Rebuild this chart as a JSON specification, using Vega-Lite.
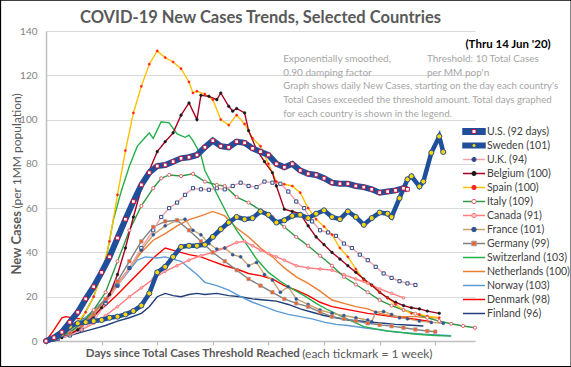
{
"$schema": "https://vega.github.io/schema/vega-lite/v6.json",
"width": 429, "height": 310,
"autosize": {"type": "none"},
"padding": {"left": 46, "top": 31, "right": 96, "bottom": 26},
"background": "white",
"config": {"view": {"stroke": null}, "font": "Lato"},
"resolve": {"scale": {"shape": "independent", "fill": "independent", "stroke": "independent", "size": "independent"}},
"datasets": {"s": [
{"c":"Finland","d":0,"v":0},{"c":"Finland","d":3,"v":1},{"c":"Finland","d":6,"v":2.5},{"c":"Finland","d":9,"v":4},{"c":"Finland","d":12,"v":5.5},{"c":"Finland","d":15,"v":7},{"c":"Finland","d":18,"v":9},{"c":"Finland","d":21,"v":10.5},{"c":"Finland","d":24,"v":12.5},{"c":"Finland","d":26,"v":15.5},{"c":"Finland","d":28,"v":20},{"c":"Finland","d":30,"v":21.5},{"c":"Finland","d":32,"v":20.5},{"c":"Finland","d":34,"v":20},{"c":"Finland","d":36,"v":21},{"c":"Finland","d":38,"v":21.5},{"c":"Finland","d":40,"v":21},{"c":"Finland","d":43,"v":21.5},{"c":"Finland","d":46,"v":20.5},{"c":"Finland","d":49,"v":20},{"c":"Finland","d":52,"v":19},{"c":"Finland","d":55,"v":18.5},{"c":"Finland","d":58,"v":18},{"c":"Finland","d":61,"v":16.5},{"c":"Finland","d":64,"v":14.5},{"c":"Finland","d":67,"v":13},{"c":"Finland","d":70,"v":11.5},{"c":"Finland","d":73,"v":10.5},{"c":"Finland","d":76,"v":9.5},{"c":"Finland","d":79,"v":9},{"c":"Finland","d":82,"v":8.5},{"c":"Finland","d":85,"v":8},{"c":"Finland","d":88,"v":7.5},{"c":"Finland","d":91,"v":7.2},{"c":"Finland","d":93,"v":7},{"c":"Finland","d":95,"v":6.8},
{"c":"Denmark","d":0,"v":0},{"c":"Denmark","d":2,"v":5},{"c":"Denmark","d":4,"v":10.5},{"c":"Denmark","d":5,"v":11},{"c":"Denmark","d":7,"v":10.3},{"c":"Denmark","d":9,"v":10},{"c":"Denmark","d":11,"v":10.5},{"c":"Denmark","d":13,"v":13},{"c":"Denmark","d":15,"v":16},{"c":"Denmark","d":18,"v":21},{"c":"Denmark","d":21,"v":26.5},{"c":"Denmark","d":24,"v":32},{"c":"Denmark","d":27,"v":37.5},{"c":"Denmark","d":30,"v":42},{"c":"Denmark","d":33,"v":40.5},{"c":"Denmark","d":36,"v":39},{"c":"Denmark","d":39,"v":38},{"c":"Denmark","d":42,"v":36},{"c":"Denmark","d":45,"v":34},{"c":"Denmark","d":48,"v":32.5},{"c":"Denmark","d":51,"v":30.5},{"c":"Denmark","d":54,"v":29.5},{"c":"Denmark","d":57,"v":28},{"c":"Denmark","d":60,"v":25},{"c":"Denmark","d":63,"v":23},{"c":"Denmark","d":66,"v":20.5},{"c":"Denmark","d":69,"v":17.5},{"c":"Denmark","d":72,"v":15.5},{"c":"Denmark","d":75,"v":14.5},{"c":"Denmark","d":78,"v":13.5},{"c":"Denmark","d":81,"v":12.5},{"c":"Denmark","d":84,"v":11.8},{"c":"Denmark","d":87,"v":11},{"c":"Denmark","d":90,"v":10.5},{"c":"Denmark","d":93,"v":9.8},{"c":"Denmark","d":97,"v":8.7},
{"c":"Norway","d":0,"v":0},{"c":"Norway","d":3,"v":2},{"c":"Norway","d":6,"v":5},{"c":"Norway","d":9,"v":9},{"c":"Norway","d":12,"v":14},{"c":"Norway","d":15,"v":19},{"c":"Norway","d":18,"v":25},{"c":"Norway","d":21,"v":32},{"c":"Norway","d":23,"v":36.5},{"c":"Norway","d":25,"v":38},{"c":"Norway","d":28,"v":37.5},{"c":"Norway","d":30,"v":38},{"c":"Norway","d":32,"v":37},{"c":"Norway","d":34,"v":36},{"c":"Norway","d":36,"v":33},{"c":"Norway","d":38,"v":30},{"c":"Norway","d":40,"v":26.5},{"c":"Norway","d":43,"v":25},{"c":"Norway","d":46,"v":23},{"c":"Norway","d":49,"v":20},{"c":"Norway","d":52,"v":17.5},{"c":"Norway","d":55,"v":15.5},{"c":"Norway","d":58,"v":13.5},{"c":"Norway","d":61,"v":12},{"c":"Norway","d":64,"v":11},{"c":"Norway","d":67,"v":10},{"c":"Norway","d":70,"v":8.5},{"c":"Norway","d":73,"v":7.5},{"c":"Norway","d":76,"v":7},{"c":"Norway","d":80,"v":6},{"c":"Norway","d":84,"v":5},{"c":"Norway","d":88,"v":4},{"c":"Norway","d":92,"v":3.5},{"c":"Norway","d":96,"v":3},{"c":"Norway","d":99,"v":2.7},{"c":"Norway","d":102,"v":2.4},
{"c":"Netherlands","d":0,"v":0},{"c":"Netherlands","d":3,"v":1.5},{"c":"Netherlands","d":6,"v":4},{"c":"Netherlands","d":9,"v":8},{"c":"Netherlands","d":12,"v":13},{"c":"Netherlands","d":15,"v":19},{"c":"Netherlands","d":18,"v":26},{"c":"Netherlands","d":21,"v":33},{"c":"Netherlands","d":24,"v":40},{"c":"Netherlands","d":27,"v":45.5},{"c":"Netherlands","d":30,"v":48.5},{"c":"Netherlands","d":33,"v":52},{"c":"Netherlands","d":36,"v":54.8},{"c":"Netherlands","d":39,"v":56.5},{"c":"Netherlands","d":42,"v":58.5},{"c":"Netherlands","d":45,"v":56.5},{"c":"Netherlands","d":48,"v":51},{"c":"Netherlands","d":51,"v":47},{"c":"Netherlands","d":54,"v":42},{"c":"Netherlands","d":57,"v":38},{"c":"Netherlands","d":60,"v":33},{"c":"Netherlands","d":63,"v":29},{"c":"Netherlands","d":66,"v":26},{"c":"Netherlands","d":69,"v":22.5},{"c":"Netherlands","d":72,"v":18.5},{"c":"Netherlands","d":75,"v":17},{"c":"Netherlands","d":78,"v":15.5},{"c":"Netherlands","d":81,"v":14.5},{"c":"Netherlands","d":84,"v":12.5},{"c":"Netherlands","d":87,"v":11.3},{"c":"Netherlands","d":90,"v":11},{"c":"Netherlands","d":93,"v":11},{"c":"Netherlands","d":96,"v":10.5},{"c":"Netherlands","d":99,"v":10.5},
{"c":"Switzerland","d":0,"v":0},{"c":"Switzerland","d":3,"v":2},{"c":"Switzerland","d":6,"v":5},{"c":"Switzerland","d":9,"v":10},{"c":"Switzerland","d":12,"v":20},{"c":"Switzerland","d":15,"v":36},{"c":"Switzerland","d":17,"v":55},{"c":"Switzerland","d":19,"v":68},{"c":"Switzerland","d":21,"v":79},{"c":"Switzerland","d":23,"v":88},{"c":"Switzerland","d":25,"v":92},{"c":"Switzerland","d":26,"v":94},{"c":"Switzerland","d":27,"v":91.5},{"c":"Switzerland","d":29,"v":99},{"c":"Switzerland","d":31,"v":98.5},{"c":"Switzerland","d":33,"v":93.5},{"c":"Switzerland","d":35,"v":92},{"c":"Switzerland","d":36,"v":93},{"c":"Switzerland","d":37,"v":90.5},{"c":"Switzerland","d":39,"v":84},{"c":"Switzerland","d":40,"v":77},{"c":"Switzerland","d":42,"v":70},{"c":"Switzerland","d":44,"v":63},{"c":"Switzerland","d":46,"v":56},{"c":"Switzerland","d":48,"v":50},{"c":"Switzerland","d":50,"v":45},{"c":"Switzerland","d":53,"v":37},{"c":"Switzerland","d":56,"v":31},{"c":"Switzerland","d":59,"v":27},{"c":"Switzerland","d":62,"v":23.5},{"c":"Switzerland","d":65,"v":20.5},{"c":"Switzerland","d":68,"v":17},{"c":"Switzerland","d":71,"v":14},{"c":"Switzerland","d":74,"v":11.5},{"c":"Switzerland","d":77,"v":9},{"c":"Switzerland","d":80,"v":6.5},{"c":"Switzerland","d":83,"v":5.5},{"c":"Switzerland","d":86,"v":4.5},{"c":"Switzerland","d":89,"v":4},{"c":"Switzerland","d":92,"v":3.3},{"c":"Switzerland","d":95,"v":2.8},{"c":"Switzerland","d":98,"v":2.5},{"c":"Switzerland","d":102,"v":2.2},
{"c":"Germany","d":0,"v":0},{"c":"Germany","d":3,"v":1.5},{"c":"Germany","d":6,"v":3.5},{"c":"Germany","d":9,"v":7},{"c":"Germany","d":12,"v":12},{"c":"Germany","d":15,"v":19},{"c":"Germany","d":18,"v":27},{"c":"Germany","d":21,"v":36},{"c":"Germany","d":24,"v":45},{"c":"Germany","d":27,"v":51.5},{"c":"Germany","d":30,"v":54},{"c":"Germany","d":33,"v":54.5},{"c":"Germany","d":36,"v":50},{"c":"Germany","d":39,"v":45},{"c":"Germany","d":42,"v":40},{"c":"Germany","d":45,"v":36},{"c":"Germany","d":48,"v":32},{"c":"Germany","d":51,"v":28},{"c":"Germany","d":54,"v":25},{"c":"Germany","d":57,"v":22},{"c":"Germany","d":60,"v":19},{"c":"Germany","d":63,"v":17},{"c":"Germany","d":66,"v":15.5},{"c":"Germany","d":69,"v":13},{"c":"Germany","d":72,"v":11},{"c":"Germany","d":75,"v":10},{"c":"Germany","d":78,"v":9},{"c":"Germany","d":81,"v":8},{"c":"Germany","d":84,"v":7.3},{"c":"Germany","d":87,"v":6.7},{"c":"Germany","d":90,"v":6},{"c":"Germany","d":93,"v":5.2},{"c":"Germany","d":96,"v":4.5},{"c":"Germany","d":98,"v":4.2},
{"c":"France","d":0,"v":0},{"c":"France","d":3,"v":1.5},{"c":"France","d":6,"v":3.5},{"c":"France","d":9,"v":7},{"c":"France","d":12,"v":12},{"c":"France","d":15,"v":18},{"c":"France","d":18,"v":25},{"c":"France","d":21,"v":33},{"c":"France","d":24,"v":41},{"c":"France","d":27,"v":48},{"c":"France","d":30,"v":52},{"c":"France","d":33,"v":54.5},{"c":"France","d":35,"v":55},{"c":"France","d":37,"v":50},{"c":"France","d":39,"v":48},{"c":"France","d":41,"v":44},{"c":"France","d":43,"v":41.5},{"c":"France","d":45,"v":42},{"c":"France","d":47,"v":39},{"c":"France","d":49,"v":38},{"c":"France","d":51,"v":34},{"c":"France","d":53,"v":35.5},{"c":"France","d":55,"v":30},{"c":"France","d":57,"v":27.5},{"c":"France","d":59,"v":22},{"c":"France","d":61,"v":24.5},{"c":"France","d":63,"v":19},{"c":"France","d":66,"v":16.5},{"c":"France","d":69,"v":14},{"c":"France","d":72,"v":12.5},{"c":"France","d":75,"v":11.5},{"c":"France","d":78,"v":10.5},{"c":"France","d":81,"v":9.5},{"c":"France","d":82,"v":8.7},{"c":"France","d":83,"v":13},{"c":"France","d":85,"v":13.3},{"c":"France","d":87,"v":12},{"c":"France","d":89,"v":10.5},{"c":"France","d":91,"v":10},{"c":"France","d":94,"v":9},{"c":"France","d":97,"v":8.4},{"c":"France","d":100,"v":8},
{"c":"Canada","d":0,"v":0},{"c":"Canada","d":3,"v":1.5},{"c":"Canada","d":6,"v":3},{"c":"Canada","d":9,"v":5},{"c":"Canada","d":12,"v":8},{"c":"Canada","d":15,"v":11.5},{"c":"Canada","d":18,"v":15.5},{"c":"Canada","d":21,"v":20},{"c":"Canada","d":24,"v":24},{"c":"Canada","d":27,"v":28},{"c":"Canada","d":30,"v":31.5},{"c":"Canada","d":33,"v":34},{"c":"Canada","d":36,"v":36.5},{"c":"Canada","d":39,"v":38.5},{"c":"Canada","d":42,"v":40},{"c":"Canada","d":45,"v":42},{"c":"Canada","d":48,"v":44.5},{"c":"Canada","d":50,"v":45},{"c":"Canada","d":52,"v":43},{"c":"Canada","d":54,"v":41},{"c":"Canada","d":56,"v":39.5},{"c":"Canada","d":58,"v":38},{"c":"Canada","d":60,"v":36.5},{"c":"Canada","d":63,"v":34},{"c":"Canada","d":66,"v":33},{"c":"Canada","d":69,"v":32.5},{"c":"Canada","d":72,"v":32},{"c":"Canada","d":75,"v":30},{"c":"Canada","d":78,"v":28},{"c":"Canada","d":81,"v":26},{"c":"Canada","d":84,"v":23.5},{"c":"Canada","d":87,"v":21.5},{"c":"Canada","d":90,"v":19.5},
{"c":"Italy","d":0,"v":0},{"c":"Italy","d":3,"v":1.5},{"c":"Italy","d":6,"v":4},{"c":"Italy","d":9,"v":8},{"c":"Italy","d":12,"v":14},{"c":"Italy","d":15,"v":22},{"c":"Italy","d":18,"v":36},{"c":"Italy","d":21,"v":50},{"c":"Italy","d":24,"v":61},{"c":"Italy","d":27,"v":69},{"c":"Italy","d":29,"v":73.5},{"c":"Italy","d":31,"v":75},{"c":"Italy","d":34,"v":74.5},{"c":"Italy","d":37,"v":75.5},{"c":"Italy","d":40,"v":72},{"c":"Italy","d":43,"v":70.5},{"c":"Italy","d":45,"v":70},{"c":"Italy","d":48,"v":65},{"c":"Italy","d":51,"v":62.5},{"c":"Italy","d":54,"v":59},{"c":"Italy","d":57,"v":56},{"c":"Italy","d":60,"v":51.5},{"c":"Italy","d":63,"v":47},{"c":"Italy","d":66,"v":43},{"c":"Italy","d":69,"v":38.5},{"c":"Italy","d":72,"v":34},{"c":"Italy","d":75,"v":29},{"c":"Italy","d":78,"v":25.5},{"c":"Italy","d":81,"v":22},{"c":"Italy","d":84,"v":18.5},{"c":"Italy","d":87,"v":16},{"c":"Italy","d":90,"v":14},{"c":"Italy","d":93,"v":12.3},{"c":"Italy","d":96,"v":10.5},{"c":"Italy","d":99,"v":9},{"c":"Italy","d":102,"v":7.8},{"c":"Italy","d":105,"v":6.8},{"c":"Italy","d":108,"v":6},
{"c":"Spain","d":0,"v":0},{"c":"Spain","d":2,"v":1.5},{"c":"Spain","d":4,"v":3.5},{"c":"Spain","d":6,"v":5.5},{"c":"Spain","d":8,"v":8.5},{"c":"Spain","d":10,"v":13},{"c":"Spain","d":12,"v":20},{"c":"Spain","d":14,"v":30},{"c":"Spain","d":16,"v":45},{"c":"Spain","d":18,"v":66},{"c":"Spain","d":20,"v":86},{"c":"Spain","d":22,"v":103},{"c":"Spain","d":24,"v":115},{"c":"Spain","d":26,"v":125},{"c":"Spain","d":28,"v":131},{"c":"Spain","d":30,"v":128},{"c":"Spain","d":32,"v":126},{"c":"Spain","d":34,"v":123},{"c":"Spain","d":36,"v":117},{"c":"Spain","d":37,"v":112},{"c":"Spain","d":38,"v":112.8},{"c":"Spain","d":40,"v":111.5},{"c":"Spain","d":42,"v":109},{"c":"Spain","d":44,"v":100},{"c":"Spain","d":46,"v":97.5},{"c":"Spain","d":48,"v":102},{"c":"Spain","d":50,"v":98},{"c":"Spain","d":52,"v":91.5},{"c":"Spain","d":54,"v":88},{"c":"Spain","d":56,"v":80},{"c":"Spain","d":58,"v":72},{"c":"Spain","d":60,"v":70.8},{"c":"Spain","d":62,"v":70},{"c":"Spain","d":64,"v":67},{"c":"Spain","d":66,"v":60},{"c":"Spain","d":68,"v":55},{"c":"Spain","d":70,"v":51.7},{"c":"Spain","d":72,"v":48},{"c":"Spain","d":74,"v":42},{"c":"Spain","d":76,"v":38},{"c":"Spain","d":78,"v":32.5},{"c":"Spain","d":80,"v":27.6},{"c":"Spain","d":82,"v":25},{"c":"Spain","d":84,"v":22},{"c":"Spain","d":86,"v":19.5},{"c":"Spain","d":88,"v":16.5},{"c":"Spain","d":90,"v":14},{"c":"Spain","d":92,"v":12.5},{"c":"Spain","d":94,"v":12},{"c":"Spain","d":96,"v":11.2},{"c":"Spain","d":99,"v":10.5},
{"c":"Belgium","d":0,"v":0},{"c":"Belgium","d":2,"v":0.5},{"c":"Belgium","d":4,"v":1.5},{"c":"Belgium","d":6,"v":3},{"c":"Belgium","d":8,"v":5},{"c":"Belgium","d":10,"v":8},{"c":"Belgium","d":12,"v":11},{"c":"Belgium","d":14,"v":15},{"c":"Belgium","d":16,"v":21},{"c":"Belgium","d":18,"v":30},{"c":"Belgium","d":20,"v":42},{"c":"Belgium","d":22,"v":56},{"c":"Belgium","d":24,"v":69},{"c":"Belgium","d":26,"v":77},{"c":"Belgium","d":28,"v":85.5},{"c":"Belgium","d":30,"v":90},{"c":"Belgium","d":32,"v":94},{"c":"Belgium","d":34,"v":102},{"c":"Belgium","d":36,"v":107.5},{"c":"Belgium","d":38,"v":100},{"c":"Belgium","d":39,"v":111},{"c":"Belgium","d":41,"v":110.5},{"c":"Belgium","d":43,"v":109},{"c":"Belgium","d":44,"v":112},{"c":"Belgium","d":46,"v":106},{"c":"Belgium","d":47,"v":103.8},{"c":"Belgium","d":48,"v":105},{"c":"Belgium","d":50,"v":103},{"c":"Belgium","d":51,"v":95},{"c":"Belgium","d":53,"v":86.5},{"c":"Belgium","d":55,"v":81},{"c":"Belgium","d":57,"v":76},{"c":"Belgium","d":58,"v":70},{"c":"Belgium","d":60,"v":59.5},{"c":"Belgium","d":62,"v":58.5},{"c":"Belgium","d":64,"v":57.5},{"c":"Belgium","d":66,"v":52},{"c":"Belgium","d":68,"v":47},{"c":"Belgium","d":70,"v":43.5},{"c":"Belgium","d":72,"v":40},{"c":"Belgium","d":74,"v":37},{"c":"Belgium","d":76,"v":34},{"c":"Belgium","d":78,"v":31},{"c":"Belgium","d":80,"v":28},{"c":"Belgium","d":82,"v":25.3},{"c":"Belgium","d":84,"v":22},{"c":"Belgium","d":86,"v":19.5},{"c":"Belgium","d":88,"v":17.5},{"c":"Belgium","d":90,"v":16},{"c":"Belgium","d":92,"v":15},{"c":"Belgium","d":94,"v":14.5},{"c":"Belgium","d":96,"v":13.5},{"c":"Belgium","d":99,"v":12.5},
{"c":"U.K.","d":0,"v":0},{"c":"U.K.","d":3,"v":1},{"c":"U.K.","d":6,"v":2.5},{"c":"U.K.","d":9,"v":5},{"c":"U.K.","d":12,"v":9},{"c":"U.K.","d":15,"v":17},{"c":"U.K.","d":18,"v":25},{"c":"U.K.","d":21,"v":33},{"c":"U.K.","d":24,"v":42},{"c":"U.K.","d":27,"v":50},{"c":"U.K.","d":29,"v":56},{"c":"U.K.","d":31,"v":60},{"c":"U.K.","d":33,"v":62.5},{"c":"U.K.","d":35,"v":66},{"c":"U.K.","d":37,"v":69},{"c":"U.K.","d":39,"v":68.5},{"c":"U.K.","d":41,"v":68.3},{"c":"U.K.","d":43,"v":69},{"c":"U.K.","d":45,"v":68.5},{"c":"U.K.","d":47,"v":70},{"c":"U.K.","d":49,"v":71.5},{"c":"U.K.","d":51,"v":70},{"c":"U.K.","d":53,"v":69.5},{"c":"U.K.","d":55,"v":72},{"c":"U.K.","d":57,"v":71.5},{"c":"U.K.","d":59,"v":71},{"c":"U.K.","d":61,"v":67.5},{"c":"U.K.","d":63,"v":63},{"c":"U.K.","d":65,"v":60},{"c":"U.K.","d":67,"v":54},{"c":"U.K.","d":69,"v":50},{"c":"U.K.","d":71,"v":49},{"c":"U.K.","d":73,"v":47.5},{"c":"U.K.","d":75,"v":44},{"c":"U.K.","d":77,"v":42},{"c":"U.K.","d":79,"v":39},{"c":"U.K.","d":81,"v":36.5},{"c":"U.K.","d":83,"v":33.5},{"c":"U.K.","d":85,"v":30.5},{"c":"U.K.","d":87,"v":28.5},{"c":"U.K.","d":89,"v":27},{"c":"U.K.","d":91,"v":26},{"c":"U.K.","d":93,"v":25.3},
{"c":"Sweden","d":0,"v":0},{"c":"Sweden","d":2,"v":1},{"c":"Sweden","d":4,"v":3},{"c":"Sweden","d":6,"v":6.5},{"c":"Sweden","d":8,"v":8},{"c":"Sweden","d":10,"v":8.5},{"c":"Sweden","d":12,"v":9},{"c":"Sweden","d":14,"v":9.5},{"c":"Sweden","d":16,"v":10.5},{"c":"Sweden","d":18,"v":11},{"c":"Sweden","d":20,"v":12},{"c":"Sweden","d":22,"v":13.5},{"c":"Sweden","d":24,"v":16},{"c":"Sweden","d":26,"v":21.5},{"c":"Sweden","d":28,"v":31},{"c":"Sweden","d":30,"v":33.5},{"c":"Sweden","d":32,"v":38},{"c":"Sweden","d":34,"v":42.5},{"c":"Sweden","d":36,"v":43},{"c":"Sweden","d":38,"v":43},{"c":"Sweden","d":40,"v":43.5},{"c":"Sweden","d":42,"v":47},{"c":"Sweden","d":44,"v":50.5},{"c":"Sweden","d":46,"v":53.5},{"c":"Sweden","d":48,"v":56},{"c":"Sweden","d":50,"v":55},{"c":"Sweden","d":52,"v":55.5},{"c":"Sweden","d":54,"v":58.5},{"c":"Sweden","d":56,"v":57},{"c":"Sweden","d":58,"v":53.5},{"c":"Sweden","d":60,"v":54.5},{"c":"Sweden","d":62,"v":56.5},{"c":"Sweden","d":64,"v":57},{"c":"Sweden","d":66,"v":55.5},{"c":"Sweden","d":68,"v":57.5},{"c":"Sweden","d":70,"v":59},{"c":"Sweden","d":72,"v":56},{"c":"Sweden","d":74,"v":55},{"c":"Sweden","d":76,"v":58.5},{"c":"Sweden","d":78,"v":56},{"c":"Sweden","d":80,"v":52.5},{"c":"Sweden","d":82,"v":55.5},{"c":"Sweden","d":84,"v":58},{"c":"Sweden","d":86,"v":57.5},{"c":"Sweden","d":87,"v":56},{"c":"Sweden","d":89,"v":64.5},{"c":"Sweden","d":91,"v":73},{"c":"Sweden","d":92,"v":74.4},{"c":"Sweden","d":94,"v":69.8},{"c":"Sweden","d":95,"v":72},{"c":"Sweden","d":97,"v":85},{"c":"Sweden","d":99,"v":92.4},{"c":"Sweden","d":100,"v":85.4},
{"c":"U.S.","d":0,"v":0},{"c":"U.S.","d":2,"v":1.5},{"c":"U.S.","d":4,"v":4},{"c":"U.S.","d":6,"v":8.5},{"c":"U.S.","d":8,"v":13},{"c":"U.S.","d":10,"v":19},{"c":"U.S.","d":12,"v":24.5},{"c":"U.S.","d":14,"v":31},{"c":"U.S.","d":16,"v":38},{"c":"U.S.","d":18,"v":46.5},{"c":"U.S.","d":20,"v":55},{"c":"U.S.","d":22,"v":63},{"c":"U.S.","d":24,"v":70.5},{"c":"U.S.","d":26,"v":76},{"c":"U.S.","d":28,"v":79},{"c":"U.S.","d":30,"v":79.5},{"c":"U.S.","d":32,"v":81},{"c":"U.S.","d":34,"v":82.5},{"c":"U.S.","d":36,"v":83},{"c":"U.S.","d":38,"v":84},{"c":"U.S.","d":40,"v":87.5},{"c":"U.S.","d":42,"v":90.5},{"c":"U.S.","d":44,"v":88},{"c":"U.S.","d":46,"v":87.5},{"c":"U.S.","d":48,"v":90},{"c":"U.S.","d":50,"v":89.5},{"c":"U.S.","d":52,"v":87},{"c":"U.S.","d":54,"v":85.5},{"c":"U.S.","d":56,"v":84},{"c":"U.S.","d":58,"v":80},{"c":"U.S.","d":60,"v":78.5},{"c":"U.S.","d":62,"v":80},{"c":"U.S.","d":64,"v":77},{"c":"U.S.","d":66,"v":75.5},{"c":"U.S.","d":68,"v":75},{"c":"U.S.","d":70,"v":73.5},{"c":"U.S.","d":72,"v":71.5},{"c":"U.S.","d":74,"v":71},{"c":"U.S.","d":76,"v":71},{"c":"U.S.","d":78,"v":70},{"c":"U.S.","d":80,"v":69.5},{"c":"U.S.","d":82,"v":68.5},{"c":"U.S.","d":84,"v":67},{"c":"U.S.","d":86,"v":67.5},{"c":"U.S.","d":88,"v":68},{"c":"U.S.","d":90,"v":69},{"c":"U.S.","d":91,"v":68.5}
]},
"layer": [
{"data": {"values": [{}]}, "mark": {"type": "rect", "fill": null, "stroke": "#000000", "strokeWidth": 1.2},
 "encoding": {"x": {"datum": -11.45, "type": "quantitative"}, "x2": {"datum": 132.2}, "y": {"datum": 153.9, "type": "quantitative"}, "y2": {"datum": -11.6}}},
{"data": {"name": "s"}, "transform": [{"filter": "datum.c !== 'U.S.' && datum.c !== 'Sweden'"}],
 "mark": {"type": "line", "strokeWidth": 1.4},
 "encoding": {
  "x": {"field": "d", "type": "quantitative", "scale": {"domain": [0, 108], "nice": false, "zero": false},
    "axis": {"values": [0,7,14,21,28,35,42,49,56,63,70,77,84,91,98,105], "labels": false, "grid": false, "ticks": true, "tickSize": 4, "tickColor": "#bfbfbf", "tickWidth": 1.2, "domainColor": "#bfbfbf", "domainWidth": 1.5, "title": null}},
  "y": {"field": "v", "type": "quantitative", "scale": {"domain": [0, 140], "nice": false},
    "axis": {"values": [0,20,40,60,80,100,120,140], "grid": true, "gridColor": "#d9d9d9", "gridWidth": 1, "ticks": false, "domainColor": "#bfbfbf", "domainWidth": 1.5, "labelColor": "#7f7f7f", "labelFont": "Lato", "labelFontSize": 10, "labelPadding": 9, "title": null}},
  "color": {"field": "c", "type": "nominal", "legend": null,
    "scale": {"domain": ["U.K.","Belgium","Spain","Italy","Canada","France","Germany","Switzerland","Netherlands","Norway","Denmark","Finland"],
      "range": ["#f4a0a8","#a50021","#ffc000","#2e9a46","#ff7c80","#c9a36b","#808080","#22b04a","#ed7d31","#5b9bd5","#ff0000","#203f7a"]}}
 }},
{"data": {"name": "s"}, "transform": [{"filter": "datum.c === 'U.K.'"}],
 "mark": {"type": "point", "shape": "square", "filled": true, "fill": "#ffffff", "stroke": "#2f4a8a", "strokeWidth": 1, "size": 10, "opacity": 1},
 "encoding": {"x": {"field": "d", "type": "quantitative"}, "y": {"field": "v", "type": "quantitative"}}},
{"data": {"name": "s"}, "transform": [{"filter": "datum.c === 'Belgium'"}],
 "mark": {"type": "point", "shape": "circle", "filled": true, "fill": "#1a1a1a", "stroke": "#1a1a1a", "strokeWidth": 0.5, "size": 7, "opacity": 1},
 "encoding": {"x": {"field": "d", "type": "quantitative"}, "y": {"field": "v", "type": "quantitative"}}},
{"data": {"name": "s"}, "transform": [{"filter": "datum.c === 'Spain'"}],
 "mark": {"type": "point", "shape": "circle", "filled": true, "fill": "#ff2020", "stroke": "#ff2020", "strokeWidth": 0.5, "size": 5, "opacity": 1},
 "encoding": {"x": {"field": "d", "type": "quantitative"}, "y": {"field": "v", "type": "quantitative"}}},
{"data": {"name": "s"}, "transform": [{"filter": "datum.c === 'Italy'"}],
 "mark": {"type": "point", "shape": "circle", "filled": true, "fill": "#ffffff", "stroke": "#e8606e", "strokeWidth": 1, "size": 10, "opacity": 1},
 "encoding": {"x": {"field": "d", "type": "quantitative"}, "y": {"field": "v", "type": "quantitative"}}},
{"data": {"name": "s"}, "transform": [{"filter": "datum.c === 'Canada'"}],
 "mark": {"type": "point", "shape": "circle", "filled": true, "fill": "#ffc0c0", "stroke": "#ff7c80", "strokeWidth": 1, "size": 7, "opacity": 1},
 "encoding": {"x": {"field": "d", "type": "quantitative"}, "y": {"field": "v", "type": "quantitative"}}},
{"data": {"name": "s"}, "transform": [{"filter": "datum.c === 'France'"}],
 "mark": {"type": "point", "shape": "circle", "filled": true, "fill": "#2f5597", "stroke": "#2f5597", "strokeWidth": 0.5, "size": 9, "opacity": 1},
 "encoding": {"x": {"field": "d", "type": "quantitative"}, "y": {"field": "v", "type": "quantitative"}}},
{"data": {"name": "s"}, "transform": [{"filter": "datum.c === 'Germany'"}],
 "mark": {"type": "point", "shape": "square", "filled": true, "fill": "#ff5a1f", "stroke": "#a0a0a0", "strokeWidth": 0.7, "size": 12, "opacity": 1},
 "encoding": {"x": {"field": "d", "type": "quantitative"}, "y": {"field": "v", "type": "quantitative"}}},
{"data": {"name": "s"}, "transform": [{"filter": "datum.c === 'Sweden'"}],
 "mark": {"type": "line", "stroke": "#1f4e9b", "strokeWidth": 4.5},
 "encoding": {"x": {"field": "d", "type": "quantitative"}, "y": {"field": "v", "type": "quantitative"}}},
{"data": {"name": "s"}, "transform": [{"filter": "datum.c === 'Sweden'"}],
 "mark": {"type": "point", "shape": "circle", "filled": true, "fill": "#ffd700", "stroke": "#1f4e9b", "strokeWidth": 1, "size": 26, "opacity": 1},
 "encoding": {"x": {"field": "d", "type": "quantitative"}, "y": {"field": "v", "type": "quantitative"}}},
{"data": {"name": "s"}, "transform": [{"filter": "datum.c === 'U.S.'"}],
 "mark": {"type": "line", "stroke": "#1f4e9b", "strokeWidth": 6},
 "encoding": {"x": {"field": "d", "type": "quantitative"}, "y": {"field": "v", "type": "quantitative"}}},
{"data": {"name": "s"}, "transform": [{"filter": "datum.c === 'U.S.'"}],
 "mark": {"type": "point", "shape": "square", "filled": true, "fill": "#ffffff", "stroke": "#c0143c", "strokeWidth": 1, "size": 14, "opacity": 1},
 "encoding": {"x": {"field": "d", "type": "quantitative"}, "y": {"field": "v", "type": "quantitative"}}},
{"data": {"values": []}, "mark": {"type": "point", "filled": false},
 "encoding": {
  "fill": {"field": "c", "type": "nominal",
    "scale": {"domain": ["U.S.","Sweden","U.K.","Belgium","Spain","Italy","Canada","France","Germany","Switzerland","Netherlands","Norway","Denmark","Finland"],
      "range": ["#1f4e9b","#1f4e9b","transparent","transparent","transparent","transparent","transparent","transparent","transparent","transparent","transparent","transparent","transparent","transparent"]},
    "legend": {"orient": "none", "legendX": 422.75, "legendY": 95.25, "title": null, "symbolSize": 25, "symbolStrokeWidth": 1.5, "symbolOpacity": 1, "symbolFillColor": "#000000", "symbolStrokeColor": "#000000", "labelFont": "Lato", "labelFontSize": 10.5, "labelColor": "#404040", "labelOffset": 7.75, "rowPadding": 3.0, "padding": 0,
      "labelExpr": "{'U.S.':'U.S. (92 days)','Sweden':'Sweden (101)','U.K.':'U.K. (94)','Belgium':'Belgium (100)','Spain':'Spain (100)','Italy':'Italy (109)','Canada':'Canada (91)','France':'France (101)','Germany':'Germany (99)','Switzerland':'Switzerland (103)','Netherlands':'Netherlands (100)','Norway':'Norway (103)','Denmark':'Denmark (98)','Finland':'Finland (96)'}[datum.label]"}},
  "stroke": {"field": "c", "type": "nominal",
    "scale": {"domain": ["U.S.","Sweden","U.K.","Belgium","Spain","Italy","Canada","France","Germany","Switzerland","Netherlands","Norway","Denmark","Finland"],
      "range": ["#1f4e9b","#1f4e9b","#f4a0a8","#a50021","#ffc000","#2e9a46","#ff7c80","#c9a36b","#808080","#22b04a","#ed7d31","#5b9bd5","#ff0000","#203f7a"]},
    "legend": {"orient": "none", "legendX": 422.75, "legendY": 95.25, "title": null, "symbolSize": 25, "symbolStrokeWidth": 1.5, "symbolOpacity": 1, "symbolFillColor": "#000000", "symbolStrokeColor": "#000000", "labelFont": "Lato", "labelFontSize": 10.5, "labelColor": "#404040", "labelOffset": 7.75, "rowPadding": 3.0, "padding": 0}},
  "shape": {"field": "c", "type": "nominal",
    "scale": {"domain": ["U.S.","Sweden","U.K.","Belgium","Spain","Italy","Canada","France","Germany","Switzerland","Netherlands","Norway","Denmark","Finland"],
      "range": ["M-4.4,-1.1H4.4V1.1H-4.4Z","M-4.4,-0.9H4.4V0.9H-4.4Z","M-4.4,0H4.4","M-4.4,0H4.4","M-4.4,0H4.4","M-4.4,0H4.4","M-4.4,0H4.4","M-4.4,0H4.4","M-4.4,0H4.4","M-4.4,0H4.4","M-4.4,0H4.4","M-4.4,0H4.4","M-4.4,0H4.4","M-4.4,0H4.4"]},
    "legend": {"orient": "none", "legendX": 422.75, "legendY": 95.25, "title": null, "symbolSize": 25, "symbolStrokeWidth": 1.5, "symbolOpacity": 1, "symbolFillColor": "#000000", "symbolStrokeColor": "#000000", "labelFont": "Lato", "labelFontSize": 10.5, "labelColor": "#404040", "labelOffset": 7.75, "rowPadding": 3.0, "padding": 0}}
 }},
{"data": {"values": []}, "mark": {"type": "point", "filled": true},
 "encoding": {
  "fill": {"field": "c", "type": "nominal",
    "scale": {"domain": ["U.S.","Sweden","U.K.","Belgium","Spain","Italy","Canada","France","Germany","Switzerland","Netherlands","Norway","Denmark","Finland"," "],
      "range": ["#ffffff","#ffd700","#2f4a8a","#1a1a1a","#ff2020","#ffffff","#ffc0c0","#2f5597","#ff5a1f","transparent","transparent","transparent","transparent","transparent","transparent"]},
    "legend": {"orient": "none", "legendX": 422.75, "legendY": 95.25, "title": null, "symbolStrokeWidth": 1, "symbolOpacity": 1, "symbolFillColor": "#000000", "symbolStrokeColor": "#000000", "labelFont": "Lato", "labelFontSize": 10.5, "labelColor": "transparent", "labelExpr": "''", "labelOffset": 7.75, "rowPadding": 3.0, "padding": 0}},
  "stroke": {"field": "c", "type": "nominal",
    "scale": {"domain": ["U.S.","Sweden","U.K.","Belgium","Spain","Italy","Canada","France","Germany","Switzerland","Netherlands","Norway","Denmark","Finland"," "],
      "range": ["#c0143c","#1f4e9b","#2f4a8a","#1a1a1a","#ff2020","#e8606e","#ff7c80","#2f5597","#a0a0a0","transparent","transparent","transparent","transparent","transparent","transparent"]},
    "legend": {"orient": "none", "legendX": 422.75, "legendY": 95.25, "title": null, "symbolStrokeWidth": 1, "symbolOpacity": 1, "symbolFillColor": "#000000", "symbolStrokeColor": "#000000", "labelFont": "Lato", "labelFontSize": 10.5, "labelColor": "transparent", "labelExpr": "''", "labelOffset": 7.75, "rowPadding": 3.0, "padding": 0}},
  "shape": {"field": "c", "type": "nominal",
    "scale": {"domain": ["U.S.","Sweden","U.K.","Belgium","Spain","Italy","Canada","France","Germany","Switzerland","Netherlands","Norway","Denmark","Finland"," "],
      "range": ["square","circle","circle","circle","circle","circle","circle","circle","square","circle","circle","circle","circle","circle","circle"]},
    "legend": {"orient": "none", "legendX": 422.75, "legendY": 95.25, "title": null, "symbolStrokeWidth": 1, "symbolOpacity": 1, "symbolFillColor": "#000000", "symbolStrokeColor": "#000000", "labelFont": "Lato", "labelFontSize": 10.5, "labelColor": "transparent", "labelExpr": "''", "labelOffset": 7.75, "rowPadding": 3.0, "padding": 0}},
  "size": {"field": "c", "type": "ordinal",
    "scale": {"domain": ["U.S.","Sweden","U.K.","Belgium","Spain","Italy","Canada","France","Germany","Switzerland","Netherlands","Norway","Denmark","Finland"," "],
      "range": [16,24,10,8,7,12,9,10,14,2,2,2,2,2,2]},
    "legend": {"orient": "none", "legendX": 422.75, "legendY": 95.25, "title": null, "symbolStrokeWidth": 1, "symbolOpacity": 1, "symbolFillColor": "#000000", "symbolStrokeColor": "#000000", "labelFont": "Lato", "labelFontSize": 10.5, "labelColor": "transparent", "labelExpr": "''", "labelOffset": 7.75, "rowPadding": 3.0, "padding": 0}}
 }},
{"data": {"values": [{}]}, "mark": {"type": "text", "text": "COVID-19 New Cases Trends, Selected Countries", "align": "center", "baseline": "middle", "font": "Lato", "fontSize": 16.5, "fontWeight": "bold", "color": "#595959"},
 "encoding": {"x": {"datum": 54.0}, "y": {"datum": 145.9}}},
{"data": {"values": [{}]}, "mark": {"type": "text", "text": ["Exponentially smoothed,", "0.90 damping factor"], "align": "left", "baseline": "alphabetic", "font": "Lato", "fontSize": 10, "color": "#a6a6a6", "lineHeight": 14},
 "encoding": {"x": {"datum": 59.7}, "y": {"datum": 126.2}}},
{"data": {"values": [{}]}, "mark": {"type": "text", "text": ["Threshold:  10 Total Cases", "per MM pop'n"], "align": "left", "baseline": "alphabetic", "font": "Lato", "fontSize": 10, "color": "#a6a6a6", "lineHeight": 14},
 "encoding": {"x": {"datum": 95.9}, "y": {"datum": 126.2}}},
{"data": {"values": [{}]}, "mark": {"type": "text", "text": ["Graph shows daily New Cases, starting on the day each country's", "Total Cases exceeded the threshold amount. Total days graphed", "for each country is shown in the legend."], "align": "left", "baseline": "alphabetic", "font": "Lato", "fontSize": 9.7, "color": "#a6a6a6", "lineHeight": 14},
 "encoding": {"x": {"datum": 59.7}, "y": {"datum": 113.6}}},
{"data": {"values": [{}]}, "mark": {"type": "text", "text": "(Thru 14 Jun '20)", "align": "left", "baseline": "alphabetic", "font": "Lato", "fontSize": 11.5, "fontWeight": "bold", "color": "#000000"},
 "encoding": {"x": {"datum": 105.6}, "y": {"datum": 132.3}}},
{"data": {"values": [{}]}, "mark": {"type": "text", "text": "Days since Total Cases Threshold Reached", "align": "right", "baseline": "middle", "font": "Lato", "fontSize": 11.5, "fontWeight": "bold", "color": "#595959"},
 "encoding": {"x": {"datum": 63.9}, "y": {"datum": -5.9}}},
{"data": {"values": [{}]}, "mark": {"type": "text", "text": "(each tickmark = 1 week)", "align": "left", "baseline": "middle", "font": "Lato", "fontSize": 12, "color": "#595959"},
 "encoding": {"x": {"datum": 64.5}, "y": {"datum": -5.9}}},
{"data": {"values": [{}]}, "mark": {"type": "text", "text": "New Cases", "angle": 270, "align": "right", "baseline": "middle", "font": "Lato", "fontSize": 13, "fontWeight": "bold", "color": "#595959"},
 "encoding": {"x": {"datum": -7.3}, "y": {"datum": 58.7}}},
{"data": {"values": [{}]}, "mark": {"type": "text", "text": "(per 1MM population)", "angle": 270, "align": "left", "baseline": "middle", "font": "Lato", "fontSize": 12, "color": "#595959"},
 "encoding": {"x": {"datum": -7.3}, "y": {"datum": 59.8}}}
]
}
